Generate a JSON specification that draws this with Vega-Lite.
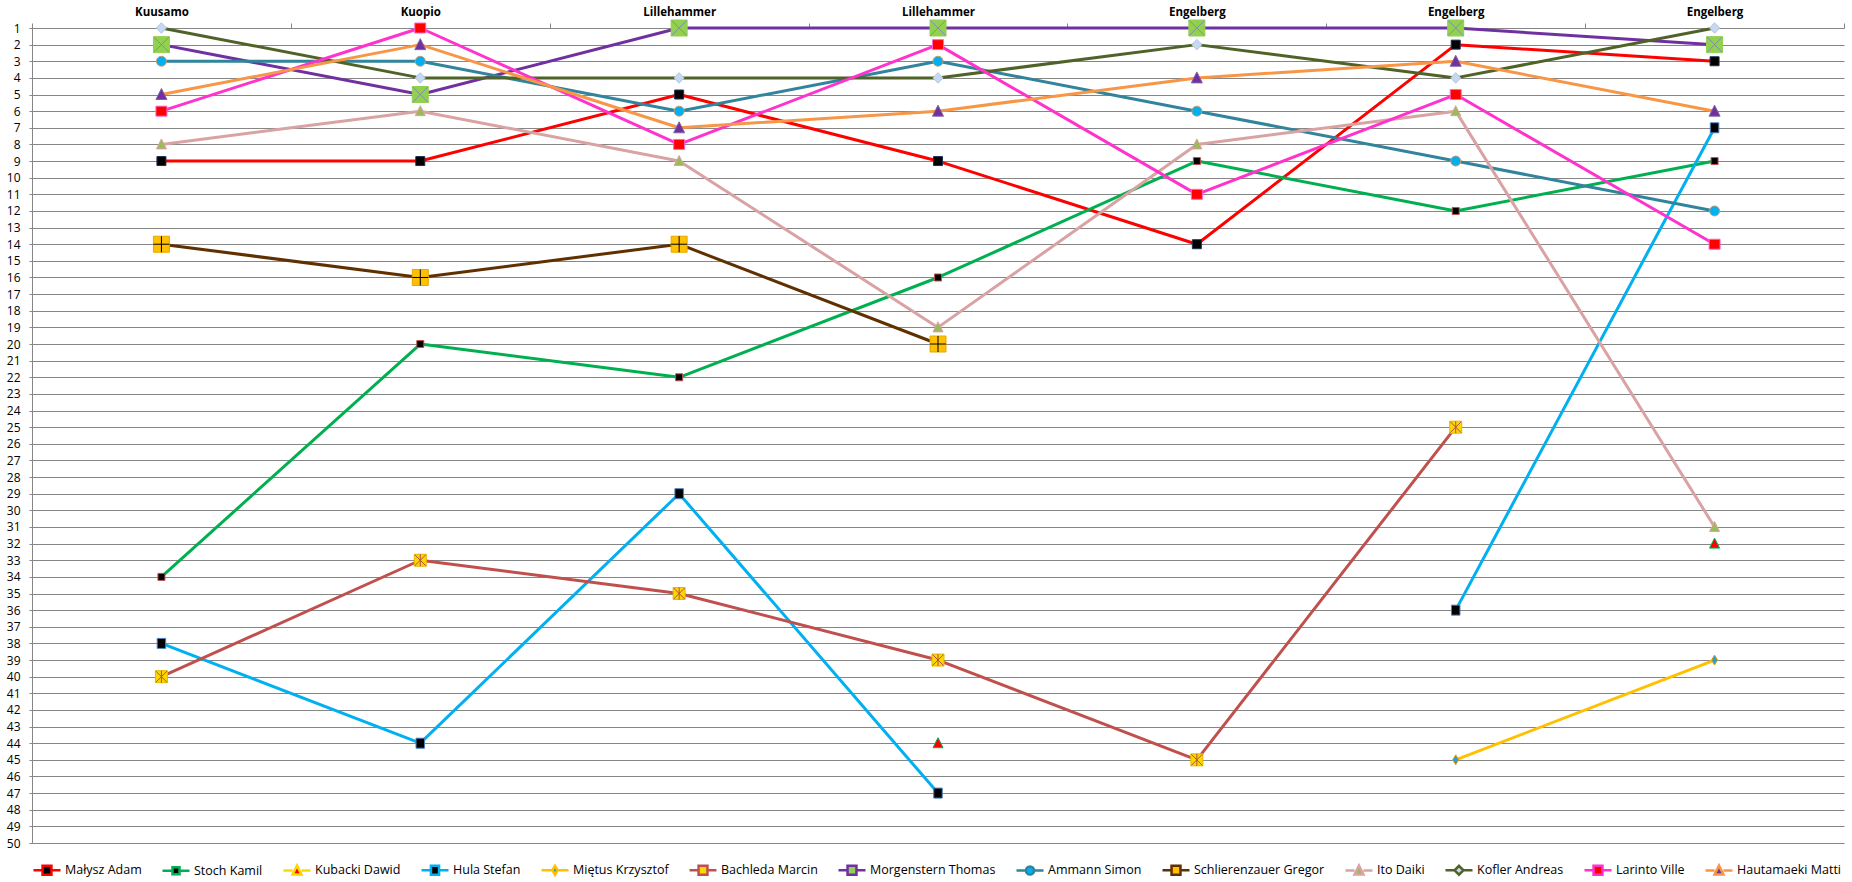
{
  "$schema": "https://vega.github.io/schema/vega-lite/v6.json",
  "width": 1812,
  "height": 815,
  "autosize": {"type": "none"},
  "padding": {"left": 32, "top": 28, "right": 8, "bottom": 39},
  "background": "white",
  "config": {"view": {"stroke": null}, "font": "Open Sans"},
  "data": {
    "values": [
      {"skier": "Małysz Adam", "race": 1, "rank": 9},
      {"skier": "Małysz Adam", "race": 2, "rank": 9},
      {"skier": "Małysz Adam", "race": 3, "rank": 5},
      {"skier": "Małysz Adam", "race": 4, "rank": 9},
      {"skier": "Małysz Adam", "race": 5, "rank": 14},
      {"skier": "Małysz Adam", "race": 6, "rank": 2},
      {"skier": "Małysz Adam", "race": 7, "rank": 3},
      {"skier": "Stoch Kamil", "race": 1, "rank": 34},
      {"skier": "Stoch Kamil", "race": 2, "rank": 20},
      {"skier": "Stoch Kamil", "race": 3, "rank": 22},
      {"skier": "Stoch Kamil", "race": 4, "rank": 16},
      {"skier": "Stoch Kamil", "race": 5, "rank": 9},
      {"skier": "Stoch Kamil", "race": 6, "rank": 12},
      {"skier": "Stoch Kamil", "race": 7, "rank": 9},
      {"skier": "Kubacki Dawid", "race": 4, "rank": 44},
      {"skier": "Kubacki Dawid", "race": 5, "rank": null},
      {"skier": "Kubacki Dawid", "race": 6, "rank": null},
      {"skier": "Kubacki Dawid", "race": 7, "rank": 32},
      {"skier": "Hula Stefan", "race": 1, "rank": 38},
      {"skier": "Hula Stefan", "race": 2, "rank": 44},
      {"skier": "Hula Stefan", "race": 3, "rank": 29},
      {"skier": "Hula Stefan", "race": 4, "rank": 47},
      {"skier": "Hula Stefan", "race": 5, "rank": null},
      {"skier": "Hula Stefan", "race": 6, "rank": 36},
      {"skier": "Hula Stefan", "race": 7, "rank": 7},
      {"skier": "Miętus Krzysztof", "race": 6, "rank": 45},
      {"skier": "Miętus Krzysztof", "race": 7, "rank": 39},
      {"skier": "Bachleda Marcin", "race": 1, "rank": 40},
      {"skier": "Bachleda Marcin", "race": 2, "rank": 33},
      {"skier": "Bachleda Marcin", "race": 3, "rank": 35},
      {"skier": "Bachleda Marcin", "race": 4, "rank": 39},
      {"skier": "Bachleda Marcin", "race": 5, "rank": 45},
      {"skier": "Bachleda Marcin", "race": 6, "rank": 25},
      {"skier": "Morgenstern Thomas", "race": 1, "rank": 2},
      {"skier": "Morgenstern Thomas", "race": 2, "rank": 5},
      {"skier": "Morgenstern Thomas", "race": 3, "rank": 1},
      {"skier": "Morgenstern Thomas", "race": 4, "rank": 1},
      {"skier": "Morgenstern Thomas", "race": 5, "rank": 1},
      {"skier": "Morgenstern Thomas", "race": 6, "rank": 1},
      {"skier": "Morgenstern Thomas", "race": 7, "rank": 2},
      {"skier": "Ammann Simon", "race": 1, "rank": 3},
      {"skier": "Ammann Simon", "race": 2, "rank": 3},
      {"skier": "Ammann Simon", "race": 3, "rank": 6},
      {"skier": "Ammann Simon", "race": 4, "rank": 3},
      {"skier": "Ammann Simon", "race": 5, "rank": 6},
      {"skier": "Ammann Simon", "race": 6, "rank": 9},
      {"skier": "Ammann Simon", "race": 7, "rank": 12},
      {"skier": "Schlierenzauer Gregor", "race": 1, "rank": 14},
      {"skier": "Schlierenzauer Gregor", "race": 2, "rank": 16},
      {"skier": "Schlierenzauer Gregor", "race": 3, "rank": 14},
      {"skier": "Schlierenzauer Gregor", "race": 4, "rank": 20},
      {"skier": "Ito Daiki", "race": 1, "rank": 8},
      {"skier": "Ito Daiki", "race": 2, "rank": 6},
      {"skier": "Ito Daiki", "race": 3, "rank": 9},
      {"skier": "Ito Daiki", "race": 4, "rank": 19},
      {"skier": "Ito Daiki", "race": 5, "rank": 8},
      {"skier": "Ito Daiki", "race": 6, "rank": 6},
      {"skier": "Ito Daiki", "race": 7, "rank": 31},
      {"skier": "Kofler Andreas", "race": 1, "rank": 1},
      {"skier": "Kofler Andreas", "race": 2, "rank": 4},
      {"skier": "Kofler Andreas", "race": 3, "rank": 4},
      {"skier": "Kofler Andreas", "race": 4, "rank": 4},
      {"skier": "Kofler Andreas", "race": 5, "rank": 2},
      {"skier": "Kofler Andreas", "race": 6, "rank": 4},
      {"skier": "Kofler Andreas", "race": 7, "rank": 1},
      {"skier": "Larinto Ville", "race": 1, "rank": 6},
      {"skier": "Larinto Ville", "race": 2, "rank": 1},
      {"skier": "Larinto Ville", "race": 3, "rank": 8},
      {"skier": "Larinto Ville", "race": 4, "rank": 2},
      {"skier": "Larinto Ville", "race": 5, "rank": 11},
      {"skier": "Larinto Ville", "race": 6, "rank": 5},
      {"skier": "Larinto Ville", "race": 7, "rank": 14},
      {"skier": "Hautamaeki Matti", "race": 1, "rank": 5},
      {"skier": "Hautamaeki Matti", "race": 2, "rank": 2},
      {"skier": "Hautamaeki Matti", "race": 3, "rank": 7},
      {"skier": "Hautamaeki Matti", "race": 4, "rank": 6},
      {"skier": "Hautamaeki Matti", "race": 5, "rank": 4},
      {"skier": "Hautamaeki Matti", "race": 6, "rank": 3},
      {"skier": "Hautamaeki Matti", "race": 7, "rank": 6}
    ]
  },
  "encoding": {
    "x": {
      "field": "race",
      "type": "ordinal",
      "scale": {"type": "band", "paddingInner": 0, "paddingOuter": 0},
      "axis": {
        "orient": "top",
        "title": null,
        "labelExpr": "['Kuusamo','Kuopio','Lillehammer','Lillehammer','Engelberg','Engelberg','Engelberg'][datum.value-1]",
        "labelAngle": 0,
        "tickBand": "extent",
        "ticks": true,
        "tickSize": 5,
        "tickColor": "#868686",
        "domainColor": "#868686",
        "labelFont": "Open Sans",
        "labelFontSize": 11.5,
        "labelFontWeight": "bold",
        "labelColor": "#000000",
        "labelPadding": 6,
        "grid": false
      }
    },
    "y": {
      "field": "rank",
      "type": "quantitative",
      "scale": {"domain": [1, 50], "reverse": true, "nice": false, "zero": false},
      "axis": {
        "orient": "left",
        "title": null,
        "values": [1,2,3,4,5,6,7,8,9,10,11,12,13,14,15,16,17,18,19,20,21,22,23,24,25,26,27,28,29,30,31,32,33,34,35,36,37,38,39,40,41,42,43,44,45,46,47,48,49,50],
        "tickSize": 3,
        "tickColor": "#868686",
        "domainColor": "#868686",
        "grid": true,
        "gridColor": "#868686",
        "gridWidth": 1,
        "labelFont": "Open Sans",
        "labelFontSize": 12,
        "labelColor": "#000000",
        "labelPadding": 9
      }
    }
  },
  "layer": [
    {
      "mark": {"type": "line", "strokeWidth": 3, "strokeJoin": "round"},
      "encoding": {
        "color": {
          "field": "skier",
          "type": "nominal",
          "scale": {
            "domain": ["Małysz Adam", "Stoch Kamil", "Kubacki Dawid", "Hula Stefan", "Miętus Krzysztof", "Bachleda Marcin", "Morgenstern Thomas", "Ammann Simon", "Schlierenzauer Gregor", "Ito Daiki", "Kofler Andreas", "Larinto Ville", "Hautamaeki Matti"],
            "range": ["#FF0000", "#00B050", "#FFD700", "#00B0F0", "#FFC000", "#C0504D", "#7030A0", "#31849B", "#603000", "#D9A3A3", "#4F6228", "#FF33CC", "#F79646"]
          },
          "legend": {
            "orient": "bottom",
            "direction": "horizontal",
            "title": null,
            "columns": 13,
            "symbolSize": 729,
            "symbolStrokeWidth": 2.5,
            "symbolOpacity": 1,
            "labelFont": "Open Sans",
            "labelFontSize": 12.5,
            "labelColor": "#000000",
            "labelOffset": 3,
            "columnPadding": 15,
            "offset": 12,
            "encode": {
              "symbols": {
                "update": {
                  "shape": {"signal": "({'Małysz Adam':'M-1,0H-0.33M0.33,0H1M-0.33,-0.33H0.33V0.33H-0.33Z','Stoch Kamil':'M-1,0H-0.26M0.26,0H1M-0.26,-0.26H0.26V0.26H-0.26Z','Kubacki Dawid':'M-1,0H-0.33M0.33,0H1M0,-0.36L0.33,0.3H-0.33Z','Hula Stefan':'M-1,0H-0.3M0.3,0H1M-0.3,-0.33H0.3V0.33H-0.3Z','Miętus Krzysztof':'M-1,0H-0.2M0.2,0H1M0,-0.33L0.2,0L0,0.33L-0.2,0Z','Bachleda Marcin':'M-1,0H-0.33M0.33,0H1M-0.33,-0.33H0.33V0.33H-0.33Z','Morgenstern Thomas':'M-1,0H-0.33M0.33,0H1M-0.33,-0.33H0.33V0.33H-0.33Z','Ammann Simon':'M-1,0H-0.3M0.3,0H1M0.3,0A0.3,0.3 0 1,1 -0.3,0A0.3,0.3 0 1,1 0.3,0Z','Schlierenzauer Gregor':'M-1,0H-0.33M0.33,0H1M-0.33,-0.33H0.33V0.33H-0.33Z','Ito Daiki':'M-1,0H-0.33M0.33,0H1M0,-0.36L0.33,0.3H-0.33Z','Kofler Andreas':'M-1,0H-0.33M0.33,0H1M0,-0.33L0.33,0L0,0.33L-0.33,0Z','Larinto Ville':'M-1,0H-0.33M0.33,0H1M-0.33,-0.33H0.33V0.33H-0.33Z','Hautamaeki Matti':'M-1,0H-0.33M0.33,0H1M0,-0.36L0.33,0.3H-0.33Z'})[datum.value]"},
                  "fill": {"signal": "({'Małysz Adam':'#000000','Stoch Kamil':'#000000','Kubacki Dawid':'#FF0000','Hula Stefan':'#000000','Miętus Krzysztof':'#2E9BD6','Bachleda Marcin':'#FFD700','Morgenstern Thomas':'#92D050','Ammann Simon':'#00B0F0','Schlierenzauer Gregor':'#FFC000','Ito Daiki':'#9BBB59','Kofler Andreas':'#C6D9F1','Larinto Ville':'#FF0000','Hautamaeki Matti':'#7030A0'})[datum.value]"}
                }
              }
            }
          }
        }
      }
    },
    {"transform": [{"filter": "datum.skier === 'Małysz Adam'"}],
     "mark": {"type": "point", "filled": true, "opacity": 1, "size": 100, "shape": "M-0.9,-0.9H0.9V0.9H-0.9Z", "fill": "#000000", "stroke": "#1F3050", "strokeWidth": 1}},
    {"transform": [{"filter": "datum.skier === 'Stoch Kamil'"}],
     "mark": {"type": "point", "filled": true, "opacity": 1, "size": 100, "shape": "M-0.7,-0.7H0.7V0.7H-0.7Z", "fill": "#000000", "stroke": "#C0504D", "strokeWidth": 1}},
    {"transform": [{"filter": "datum.skier === 'Kubacki Dawid'"}],
     "mark": {"type": "point", "filled": true, "opacity": 1, "size": 100, "shape": "M0,-1.1L1,0.9H-1Z", "fill": "#FF0000", "stroke": "#00B050", "strokeWidth": 1}},
    {"transform": [{"filter": "datum.skier === 'Hula Stefan'"}],
     "mark": {"type": "point", "filled": true, "opacity": 1, "size": 100, "shape": "M-0.85,-1H0.85V1H-0.85Z", "fill": "#000000", "stroke": "#4F81BD", "strokeWidth": 1}},
    {"transform": [{"filter": "datum.skier === 'Miętus Krzysztof'"}],
     "mark": {"type": "point", "filled": true, "opacity": 1, "size": 100, "shape": "M0,-1L0.6,0L0,1L-0.6,0Z", "fill": "#2E9BD6", "stroke": "#E0A000", "strokeWidth": 1}},
    {"transform": [{"filter": "datum.skier === 'Bachleda Marcin'"}],
     "mark": {"type": "point", "filled": true, "opacity": 1, "size": 100, "shape": "M-1.2,-1.2H1.2V1.2H-1.2Z", "fill": "#FFD700", "stroke": "#E6B800", "strokeWidth": 1}},
    {"transform": [{"filter": "datum.skier === 'Bachleda Marcin'"}],
     "mark": {"type": "point", "filled": false, "opacity": 1, "size": 100, "shape": "M0,-1.2V1.2M-1.1,-1.1L1.1,1.1M1.1,-1.1L-1.1,1.1", "stroke": "#B05040", "strokeWidth": 1}},
    {"transform": [{"filter": "datum.skier === 'Morgenstern Thomas'"}],
     "mark": {"type": "point", "filled": true, "opacity": 1, "size": 100, "shape": "M-1.6,-1.6H1.6V1.6H-1.6Z", "fill": "#92D050", "stroke": "#92D050", "strokeWidth": 1}},
    {"transform": [{"filter": "datum.skier === 'Morgenstern Thomas'"}],
     "mark": {"type": "point", "filled": false, "opacity": 1, "size": 100, "shape": "M-1.5,-1.5L1.5,1.5M1.5,-1.5L-1.5,1.5", "stroke": "#7F8FB0", "strokeWidth": 1}},
    {"transform": [{"filter": "datum.skier === 'Ammann Simon'"}],
     "mark": {"type": "point", "filled": true, "opacity": 1, "size": 100, "shape": "circle", "fill": "#00B0F0", "stroke": "#C89B6B", "strokeWidth": 1}},
    {"transform": [{"filter": "datum.skier === 'Schlierenzauer Gregor'"}],
     "mark": {"type": "point", "filled": true, "opacity": 1, "size": 100, "shape": "M-1.6,-1.6H1.6V1.6H-1.6Z", "fill": "#FFC000", "stroke": "#E6A800", "strokeWidth": 1}},
    {"transform": [{"filter": "datum.skier === 'Schlierenzauer Gregor'"}],
     "mark": {"type": "point", "filled": false, "opacity": 1, "size": 100, "shape": "M0,-1.6V1.6M-1.6,0H1.6", "stroke": "#000000", "strokeWidth": 1}},
    {"transform": [{"filter": "datum.skier === 'Ito Daiki'"}],
     "mark": {"type": "point", "filled": true, "opacity": 1, "size": 100, "shape": "M0,-1.1L1,0.9H-1Z", "fill": "#9BBB59", "stroke": "#D9A3A3", "strokeWidth": 1}},
    {"transform": [{"filter": "datum.skier === 'Kofler Andreas'"}],
     "mark": {"type": "point", "filled": true, "opacity": 1, "size": 100, "shape": "M0,-1.05L1,0L0,1.05L-1,0Z", "fill": "#C6D9F1", "stroke": "#B0C4DE", "strokeWidth": 1}},
    {"transform": [{"filter": "datum.skier === 'Larinto Ville'"}],
     "mark": {"type": "point", "filled": true, "opacity": 1, "size": 100, "shape": "M-1.1,-1H1.1V1H-1.1Z", "fill": "#FF0000", "stroke": "#FF66CC", "strokeWidth": 1}},
    {"transform": [{"filter": "datum.skier === 'Hautamaeki Matti'"}],
     "mark": {"type": "point", "filled": true, "opacity": 1, "size": 100, "shape": "M0,-1.2L1.1,1H-1.1Z", "fill": "#7030A0", "stroke": "#8064A2", "strokeWidth": 1}}
  ]
}
